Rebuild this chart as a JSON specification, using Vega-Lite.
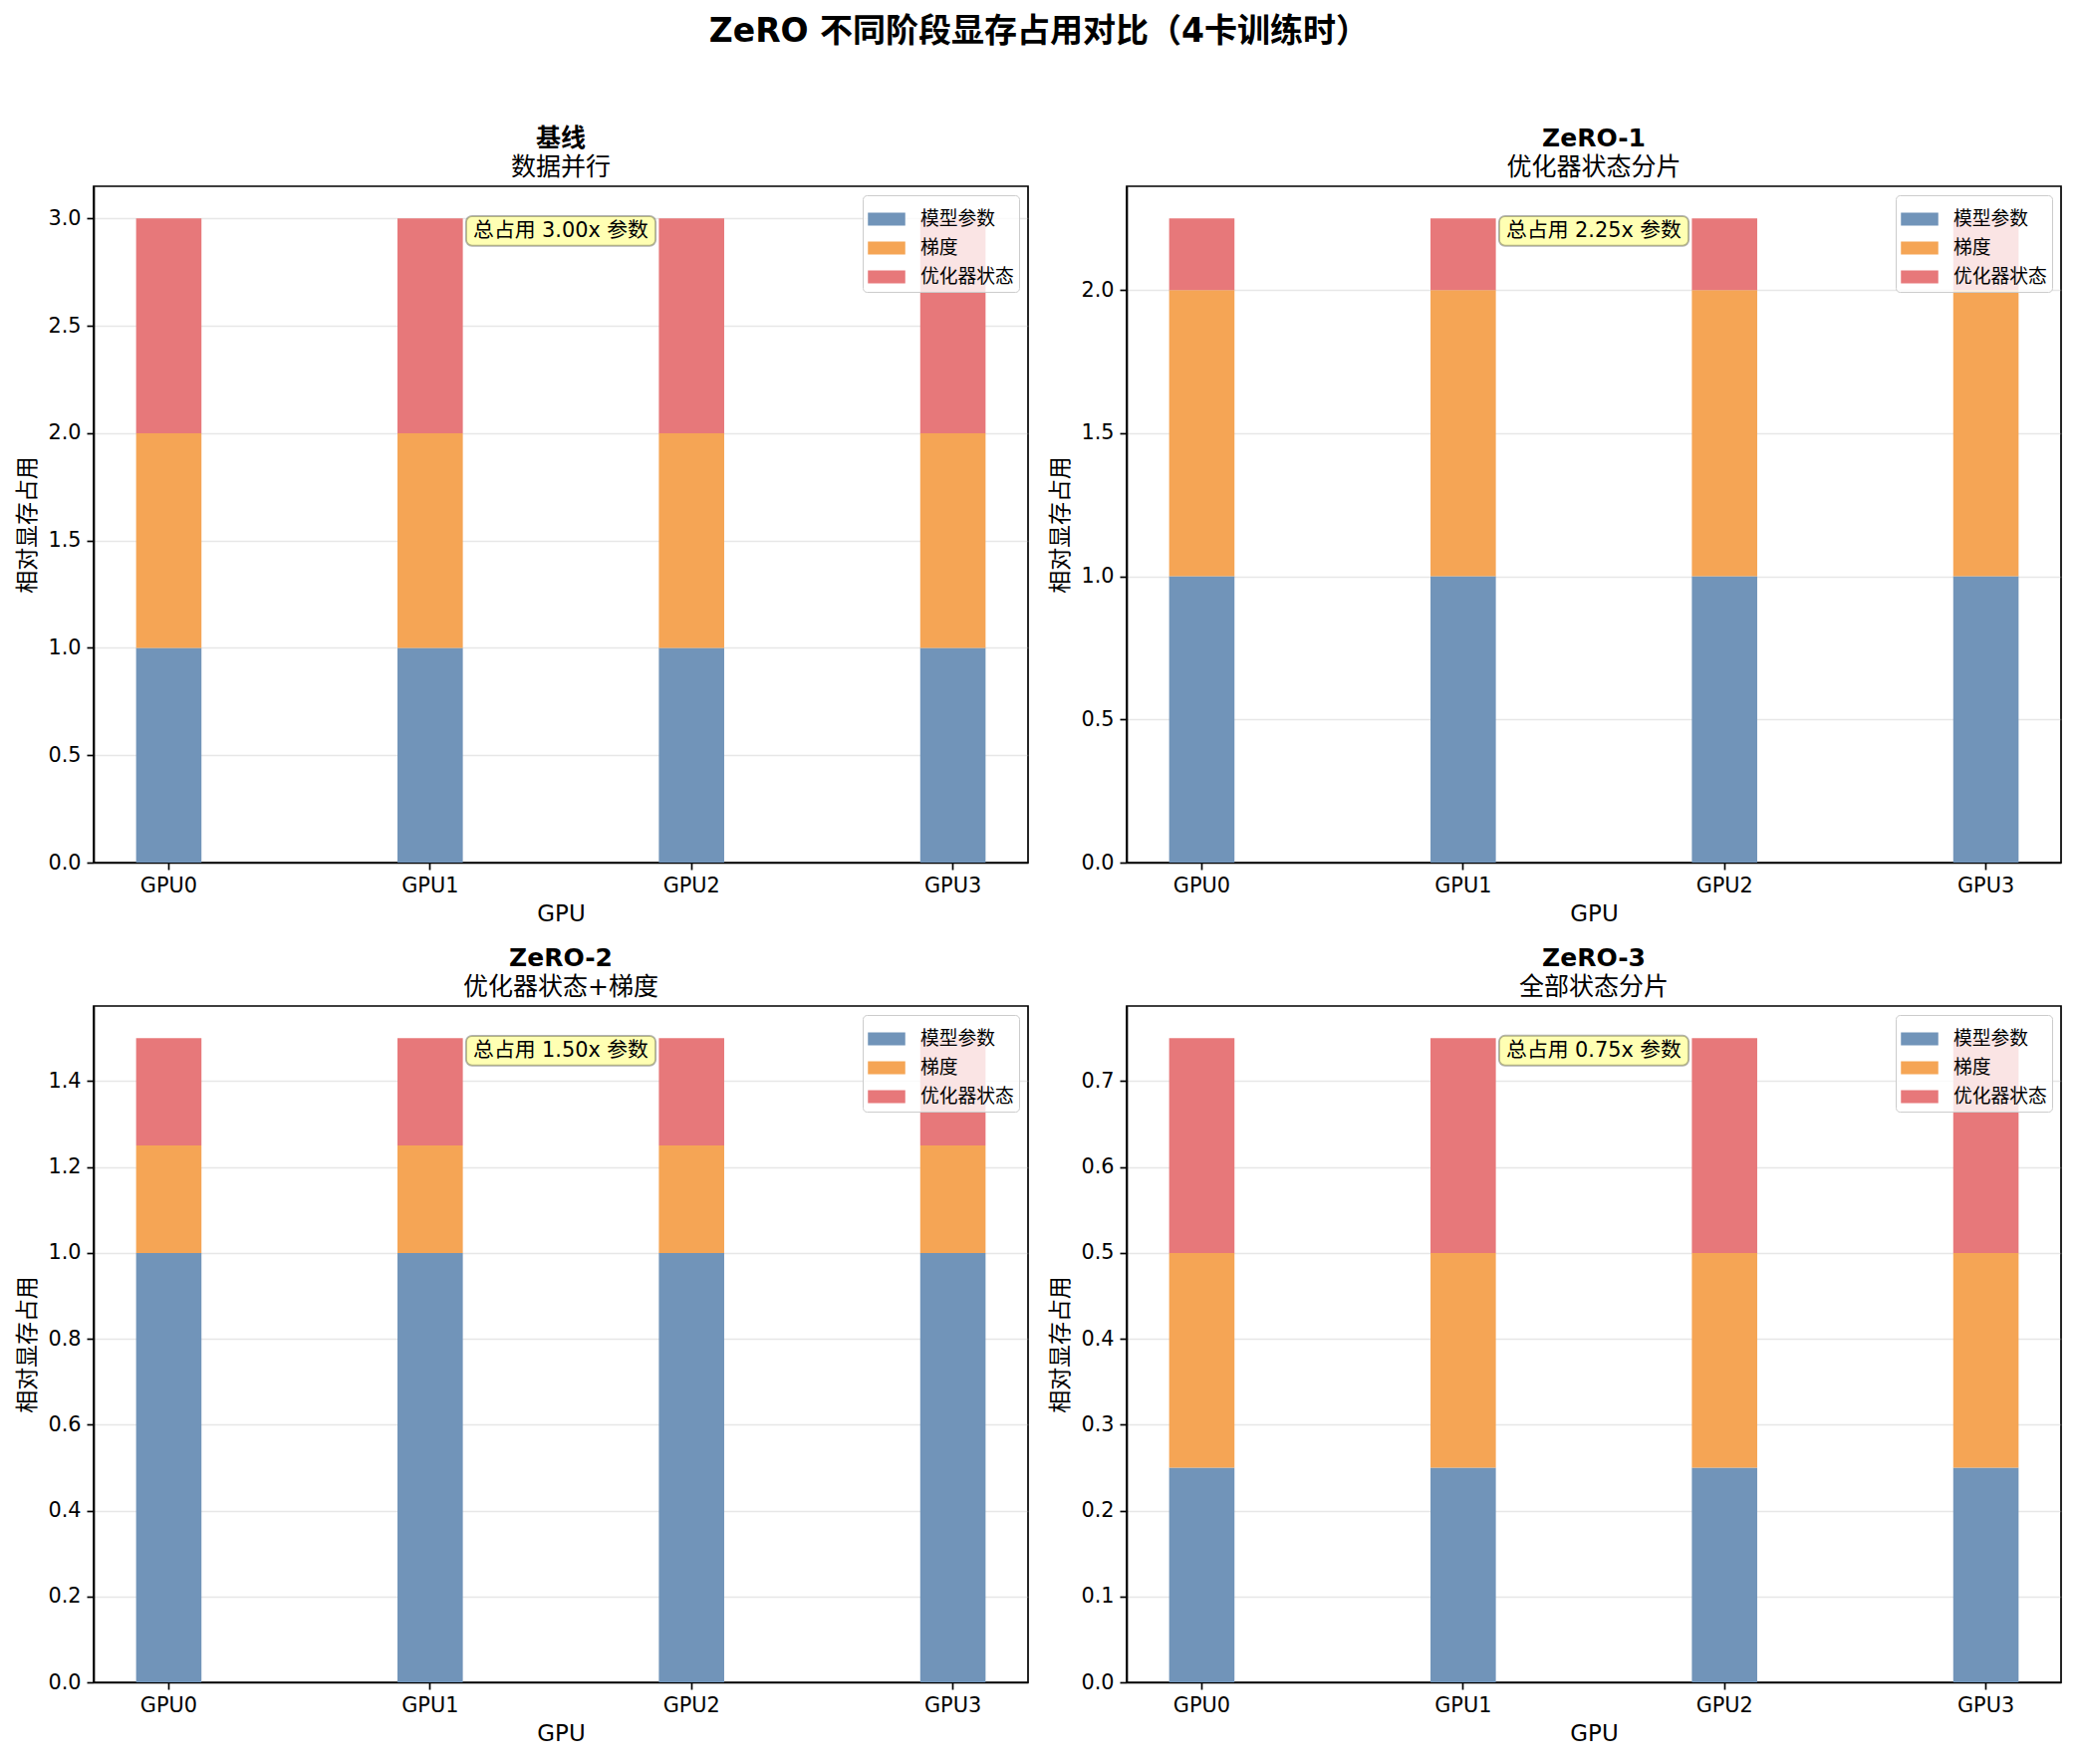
{
  "$schema": "https://vega.github.io/schema/vega-lite/v6.json",
  "background": "white",
  "padding": {"left": 16, "top": 16, "right": 10, "bottom": 10},
  "title": {
    "text": "ZeRO 不同阶段显存占用对比（4卡训练时）",
    "fontSize": 33,
    "fontWeight": "bold",
    "anchor": "middle",
    "frame": "bounds",
    "offset": 77
  },
  "datasets": {
    "mem": [
      {"stage": "基线", "gpu": "GPU0", "part": "模型参数", "value": 1},
      {"stage": "基线", "gpu": "GPU0", "part": "梯度", "value": 1},
      {"stage": "基线", "gpu": "GPU0", "part": "优化器状态", "value": 1},
      {"stage": "基线", "gpu": "GPU1", "part": "模型参数", "value": 1},
      {"stage": "基线", "gpu": "GPU1", "part": "梯度", "value": 1},
      {"stage": "基线", "gpu": "GPU1", "part": "优化器状态", "value": 1},
      {"stage": "基线", "gpu": "GPU2", "part": "模型参数", "value": 1},
      {"stage": "基线", "gpu": "GPU2", "part": "梯度", "value": 1},
      {"stage": "基线", "gpu": "GPU2", "part": "优化器状态", "value": 1},
      {"stage": "基线", "gpu": "GPU3", "part": "模型参数", "value": 1},
      {"stage": "基线", "gpu": "GPU3", "part": "梯度", "value": 1},
      {"stage": "基线", "gpu": "GPU3", "part": "优化器状态", "value": 1},
      {"stage": "ZeRO-1", "gpu": "GPU0", "part": "模型参数", "value": 1},
      {"stage": "ZeRO-1", "gpu": "GPU0", "part": "梯度", "value": 1},
      {"stage": "ZeRO-1", "gpu": "GPU0", "part": "优化器状态", "value": 0.25},
      {"stage": "ZeRO-1", "gpu": "GPU1", "part": "模型参数", "value": 1},
      {"stage": "ZeRO-1", "gpu": "GPU1", "part": "梯度", "value": 1},
      {"stage": "ZeRO-1", "gpu": "GPU1", "part": "优化器状态", "value": 0.25},
      {"stage": "ZeRO-1", "gpu": "GPU2", "part": "模型参数", "value": 1},
      {"stage": "ZeRO-1", "gpu": "GPU2", "part": "梯度", "value": 1},
      {"stage": "ZeRO-1", "gpu": "GPU2", "part": "优化器状态", "value": 0.25},
      {"stage": "ZeRO-1", "gpu": "GPU3", "part": "模型参数", "value": 1},
      {"stage": "ZeRO-1", "gpu": "GPU3", "part": "梯度", "value": 1},
      {"stage": "ZeRO-1", "gpu": "GPU3", "part": "优化器状态", "value": 0.25},
      {"stage": "ZeRO-2", "gpu": "GPU0", "part": "模型参数", "value": 1},
      {"stage": "ZeRO-2", "gpu": "GPU0", "part": "梯度", "value": 0.25},
      {"stage": "ZeRO-2", "gpu": "GPU0", "part": "优化器状态", "value": 0.25},
      {"stage": "ZeRO-2", "gpu": "GPU1", "part": "模型参数", "value": 1},
      {"stage": "ZeRO-2", "gpu": "GPU1", "part": "梯度", "value": 0.25},
      {"stage": "ZeRO-2", "gpu": "GPU1", "part": "优化器状态", "value": 0.25},
      {"stage": "ZeRO-2", "gpu": "GPU2", "part": "模型参数", "value": 1},
      {"stage": "ZeRO-2", "gpu": "GPU2", "part": "梯度", "value": 0.25},
      {"stage": "ZeRO-2", "gpu": "GPU2", "part": "优化器状态", "value": 0.25},
      {"stage": "ZeRO-2", "gpu": "GPU3", "part": "模型参数", "value": 1},
      {"stage": "ZeRO-2", "gpu": "GPU3", "part": "梯度", "value": 0.25},
      {"stage": "ZeRO-2", "gpu": "GPU3", "part": "优化器状态", "value": 0.25},
      {"stage": "ZeRO-3", "gpu": "GPU0", "part": "模型参数", "value": 0.25},
      {"stage": "ZeRO-3", "gpu": "GPU0", "part": "梯度", "value": 0.25},
      {"stage": "ZeRO-3", "gpu": "GPU0", "part": "优化器状态", "value": 0.25},
      {"stage": "ZeRO-3", "gpu": "GPU1", "part": "模型参数", "value": 0.25},
      {"stage": "ZeRO-3", "gpu": "GPU1", "part": "梯度", "value": 0.25},
      {"stage": "ZeRO-3", "gpu": "GPU1", "part": "优化器状态", "value": 0.25},
      {"stage": "ZeRO-3", "gpu": "GPU2", "part": "模型参数", "value": 0.25},
      {"stage": "ZeRO-3", "gpu": "GPU2", "part": "梯度", "value": 0.25},
      {"stage": "ZeRO-3", "gpu": "GPU2", "part": "优化器状态", "value": 0.25},
      {"stage": "ZeRO-3", "gpu": "GPU3", "part": "模型参数", "value": 0.25},
      {"stage": "ZeRO-3", "gpu": "GPU3", "part": "梯度", "value": 0.25},
      {"stage": "ZeRO-3", "gpu": "GPU3", "part": "优化器状态", "value": 0.25}
    ]
  },
  "spacing": 18,
  "vconcat": [
    {
      "spacing": 20,
      "resolve": {"scale": {"color": "independent", "y": "independent", "x": "independent"}, "legend": {"color": "independent"}},
      "hconcat": [
        {
          "width": 938, "height": 679,
          "title": {"text": "基线", "subtitle": "数据并行"},
          "data": {"name": "mem"},
          "transform": [{"filter": "datum.stage === '基线'"}],
          "layer": [
            {
              "mark": {"type": "bar"},
              "encoding": {
                "x": {"field": "gpu", "type": "nominal", "scale": {"paddingInner": 0.75, "paddingOuter": 0.1625}, "axis": {"title": "GPU", "labelAngle": 0}},
                "y": {"field": "value", "type": "quantitative", "stack": "zero", "scale": {"domain": [0, 3.15], "nice": false}, "axis": {"title": "相对显存占用", "values": [0, 0.5, 1, 1.5, 2, 2.5, 3], "format": ".1f"}},
                "color": {"field": "part", "type": "nominal", "sort": ["模型参数", "梯度", "优化器状态"], "scale": {"domain": ["模型参数", "梯度", "优化器状态"], "range": ["#7194b9", "#f5a555", "#e7787a"]}, "legend": {"title": null, "orient": "none", "legendX": 772, "legendY": 9}}
              }
            },
            {
              "transform": [
                {"filter": "datum.gpu === 'GPU0'"},
                {"aggregate": [{"op": "sum", "field": "value", "as": "total"}]},
                {"calculate": "'总占用 ' + format(datum.total, '.2f') + 'x 参数'", "as": "label"}
              ],
              "layer": [
                {
                  "mark": {"type": "rect", "fill": "#ffffb3", "stroke": "#000", "strokeOpacity": 0.3, "strokeWidth": 2, "cornerRadius": 6},
                  "encoding": {
                    "x": {"datum": "GPU1", "bandPosition": 1.05},
                    "x2": {"datum": "GPU1", "bandPosition": 3.95},
                    "y": {"datum": 3.011},
                    "y2": {"datum": 2.873}
                  }
                },
                {
                  "mark": {"type": "text", "baseline": "middle", "align": "center", "fontSize": 20.8, "color": "#000"},
                  "encoding": {
                    "x": {"datum": "GPU1", "bandPosition": 2.5},
                    "y": {"datum": 2.942},
                    "text": {"field": "label"}
                  }
                }
              ]
            }
          ]
        },
        {
          "width": 938, "height": 679,
          "title": {"text": "ZeRO-1", "subtitle": "优化器状态分片"},
          "data": {"name": "mem"},
          "transform": [{"filter": "datum.stage === 'ZeRO-1'"}],
          "layer": [
            {
              "mark": {"type": "bar"},
              "encoding": {
                "x": {"field": "gpu", "type": "nominal", "scale": {"paddingInner": 0.75, "paddingOuter": 0.1625}, "axis": {"title": "GPU", "labelAngle": 0}},
                "y": {"field": "value", "type": "quantitative", "stack": "zero", "scale": {"domain": [0, 2.3625], "nice": false}, "axis": {"title": "相对显存占用", "values": [0, 0.5, 1, 1.5, 2], "format": ".1f"}},
                "color": {"field": "part", "type": "nominal", "sort": ["模型参数", "梯度", "优化器状态"], "scale": {"domain": ["模型参数", "梯度", "优化器状态"], "range": ["#7194b9", "#f5a555", "#e7787a"]}, "legend": {"title": null, "orient": "none", "legendX": 772, "legendY": 9}}
              }
            },
            {
              "transform": [
                {"filter": "datum.gpu === 'GPU0'"},
                {"aggregate": [{"op": "sum", "field": "value", "as": "total"}]},
                {"calculate": "'总占用 ' + format(datum.total, '.2f') + 'x 参数'", "as": "label"}
              ],
              "layer": [
                {
                  "mark": {"type": "rect", "fill": "#ffffb3", "stroke": "#000", "strokeOpacity": 0.3, "strokeWidth": 2, "cornerRadius": 6},
                  "encoding": {
                    "x": {"datum": "GPU1", "bandPosition": 1.05},
                    "x2": {"datum": "GPU1", "bandPosition": 3.95},
                    "y": {"datum": 2.2585},
                    "y2": {"datum": 2.1546}
                  }
                },
                {
                  "mark": {"type": "text", "baseline": "middle", "align": "center", "fontSize": 20.8, "color": "#000"},
                  "encoding": {
                    "x": {"datum": "GPU1", "bandPosition": 2.5},
                    "y": {"datum": 2.2066},
                    "text": {"field": "label"}
                  }
                }
              ]
            }
          ]
        }
      ]
    },
    {
      "spacing": 20,
      "resolve": {"scale": {"color": "independent", "y": "independent", "x": "independent"}, "legend": {"color": "independent"}},
      "hconcat": [
        {
          "width": 938, "height": 679,
          "title": {"text": "ZeRO-2", "subtitle": "优化器状态+梯度"},
          "data": {"name": "mem"},
          "transform": [{"filter": "datum.stage === 'ZeRO-2'"}],
          "layer": [
            {
              "mark": {"type": "bar"},
              "encoding": {
                "x": {"field": "gpu", "type": "nominal", "scale": {"paddingInner": 0.75, "paddingOuter": 0.1625}, "axis": {"title": "GPU", "labelAngle": 0}},
                "y": {"field": "value", "type": "quantitative", "stack": "zero", "scale": {"domain": [0, 1.575], "nice": false}, "axis": {"title": "相对显存占用", "values": [0, 0.2, 0.4, 0.6, 0.8, 1, 1.2, 1.4], "format": ".1f"}},
                "color": {"field": "part", "type": "nominal", "sort": ["模型参数", "梯度", "优化器状态"], "scale": {"domain": ["模型参数", "梯度", "优化器状态"], "range": ["#7194b9", "#f5a555", "#e7787a"]}, "legend": {"title": null, "orient": "none", "legendX": 772, "legendY": 9}}
              }
            },
            {
              "transform": [
                {"filter": "datum.gpu === 'GPU0'"},
                {"aggregate": [{"op": "sum", "field": "value", "as": "total"}]},
                {"calculate": "'总占用 ' + format(datum.total, '.2f') + 'x 参数'", "as": "label"}
              ],
              "layer": [
                {
                  "mark": {"type": "rect", "fill": "#ffffb3", "stroke": "#000", "strokeOpacity": 0.3, "strokeWidth": 2, "cornerRadius": 6},
                  "encoding": {
                    "x": {"datum": "GPU1", "bandPosition": 1.05},
                    "x2": {"datum": "GPU1", "bandPosition": 3.95},
                    "y": {"datum": 1.5057},
                    "y2": {"datum": 1.4364}
                  }
                },
                {
                  "mark": {"type": "text", "baseline": "middle", "align": "center", "fontSize": 20.8, "color": "#000"},
                  "encoding": {
                    "x": {"datum": "GPU1", "bandPosition": 2.5},
                    "y": {"datum": 1.4711},
                    "text": {"field": "label"}
                  }
                }
              ]
            }
          ]
        },
        {
          "width": 938, "height": 679,
          "title": {"text": "ZeRO-3", "subtitle": "全部状态分片"},
          "data": {"name": "mem"},
          "transform": [{"filter": "datum.stage === 'ZeRO-3'"}],
          "layer": [
            {
              "mark": {"type": "bar"},
              "encoding": {
                "x": {"field": "gpu", "type": "nominal", "scale": {"paddingInner": 0.75, "paddingOuter": 0.1625}, "axis": {"title": "GPU", "labelAngle": 0}},
                "y": {"field": "value", "type": "quantitative", "stack": "zero", "scale": {"domain": [0, 0.7875], "nice": false}, "axis": {"title": "相对显存占用", "values": [0, 0.1, 0.2, 0.3, 0.4, 0.5, 0.6, 0.7], "format": ".1f"}},
                "color": {"field": "part", "type": "nominal", "sort": ["模型参数", "梯度", "优化器状态"], "scale": {"domain": ["模型参数", "梯度", "优化器状态"], "range": ["#7194b9", "#f5a555", "#e7787a"]}, "legend": {"title": null, "orient": "none", "legendX": 772, "legendY": 9}}
              }
            },
            {
              "transform": [
                {"filter": "datum.gpu === 'GPU0'"},
                {"aggregate": [{"op": "sum", "field": "value", "as": "total"}]},
                {"calculate": "'总占用 ' + format(datum.total, '.2f') + 'x 参数'", "as": "label"}
              ],
              "layer": [
                {
                  "mark": {"type": "rect", "fill": "#ffffb3", "stroke": "#000", "strokeOpacity": 0.3, "strokeWidth": 2, "cornerRadius": 6},
                  "encoding": {
                    "x": {"datum": "GPU1", "bandPosition": 1.05},
                    "x2": {"datum": "GPU1", "bandPosition": 3.95},
                    "y": {"datum": 0.7529},
                    "y2": {"datum": 0.7182}
                  }
                },
                {
                  "mark": {"type": "text", "baseline": "middle", "align": "center", "fontSize": 20.8, "color": "#000"},
                  "encoding": {
                    "x": {"datum": "GPU1", "bandPosition": 2.5},
                    "y": {"datum": 0.7355},
                    "text": {"field": "label"}
                  }
                }
              ]
            }
          ]
        }
      ]
    }
  ],
  "resolve": {"scale": {"color": "independent", "y": "independent", "x": "independent"}, "legend": {"color": "independent"}},
  "config": {
    "font": "'DejaVu Sans', 'Noto Sans CJK SC', sans-serif",
    "view": {"stroke": "#000", "strokeWidth": 1.7},
    "axis": {
      "domainColor": "#000", "domainWidth": 1.7,
      "tickColor": "#000", "tickWidth": 1.7, "tickSize": 7,
      "labelFontSize": 20.8, "labelColor": "#000", "labelPadding": 6,
      "titleFontSize": 22.9, "titleFontWeight": "normal", "titleColor": "#000", "titlePadding": 8,
      "gridColor": "#b0b0b0", "gridOpacity": 0.3, "gridWidth": 1.7
    },
    "axisX": {"grid": false},
    "axisY": {"grid": true},
    "title": {
      "fontSize": 25, "fontWeight": "bold", "color": "#000",
      "subtitleFontSize": 25, "subtitleColor": "#000", "subtitlePadding": 4,
      "anchor": "middle", "offset": 6
    },
    "legend": {
      "fillColor": "rgba(255,255,255,0.8)", "strokeColor": "#cccccc", "cornerRadius": 4,
      "padding": 5, "labelFontSize": 18.75, "labelColor": "#000", "labelOffset": 15,
      "symbolType": "M-1,-0.35H1V0.35H-1Z", "symbolSize": 1406, "symbolStrokeWidth": 0, "symbolOpacity": 1,
      "rowPadding": 0
    }
  }
}
